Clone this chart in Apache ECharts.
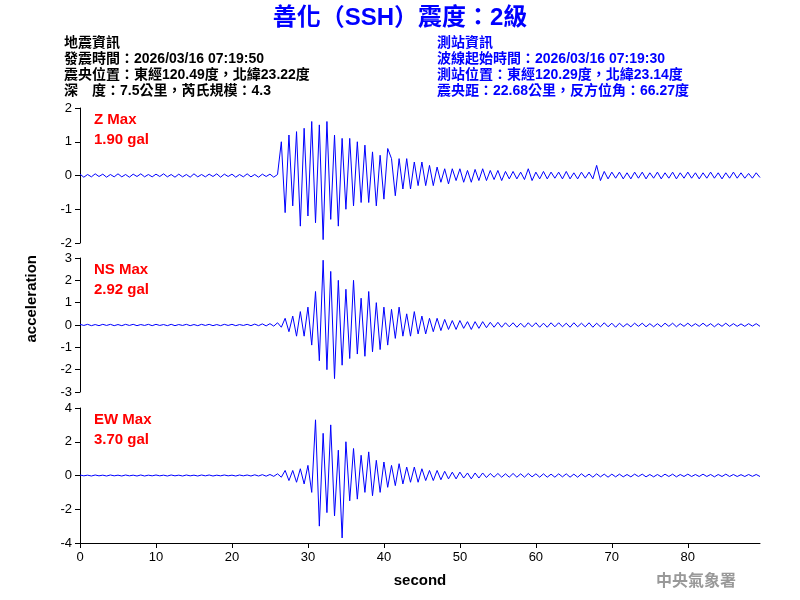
<!DOCTYPE html>
<html>
<head>
<meta charset="utf-8">
<script src="https://cdn.jsdelivr.net/npm/echarts@6/dist/echarts.min.js"></script>
<style>body{margin:0}#main{width:800px;height:600px}</style>
</head>
<body>
<div id="main"></div>
<script>
// 0.5 s per sample
var step = 0.5;
var zData = [0.04,-0.05,0.03,-0.04,0.05,-0.03,0.04,-0.05,0.03,-0.04,
  0.05,-0.04,0.03,-0.05,0.04,-0.03,0.05,-0.04,0.03,-0.04,
  0.04,-0.03,0.05,-0.04,0.03,-0.05,0.04,-0.04,0.03,-0.05,
  0.05,-0.04,0.03,-0.04,0.04,-0.03,0.05,-0.05,0.04,-0.03,
  0.04,-0.05,0.03,-0.04,0.05,-0.04,0.03,-0.05,0.04,-0.03,0.04,-0.05,0.03,
  1.0,-1.1,1.2,-0.9,1.3,-1.5,1.4,-1.2,
  1.6,-1.4,1.5,-1.9,1.6,-1.3,1.2,-1.5,1.1,
  -1.0,1.1,-0.9,1.0,-0.8,0.9,-0.8,0.7,-0.9,0.6,-0.7,0.8,
  0.5,-0.6,0.5,-0.4,0.5,-0.4,0.4,-0.3,0.4,-0.3,0.3,-0.3,
  0.25,-0.2,0.2,-0.25,0.2,-0.15,0.2,-0.2,0.15,-0.2,0.18,-0.15,0.2,-0.15,0.15,-0.12,0.15,-0.15,0.12,-0.1,
  0.12,-0.1,0.1,-0.12,0.2,-0.15,0.1,-0.1,0.12,-0.1,
  0.1,-0.08,0.1,-0.1,0.12,-0.1,0.08,-0.1,0.1,-0.08,
  0.1,-0.1,0.3,-0.15,0.12,-0.1,0.1,-0.08,0.1,-0.1,
  0.08,-0.1,0.1,-0.08,0.1,-0.1,0.08,-0.08,0.1,-0.1,
  0.08,-0.08,0.1,-0.1,0.08,-0.08,0.1,-0.08,0.08,-0.1,
  0.08,-0.08,0.1,-0.08,0.08,-0.1,0.08,-0.08,0.1,-0.08,
  0.08,-0.08,0.06,-0.08,0.08,-0.06];
var nsData = [0.03,-0.02,0.03,-0.03,0.02,-0.03,0.03,-0.02,0.03,-0.03,
  0.02,-0.03,0.03,-0.02,0.03,-0.03,0.02,-0.02,0.03,-0.03,
  0.03,-0.02,0.02,-0.03,0.03,-0.03,0.02,-0.02,0.03,-0.03,
  0.02,-0.03,0.03,-0.02,0.03,-0.03,0.02,-0.03,0.03,-0.02,
  0.03,-0.03,0.02,-0.02,0.03,-0.03,0.04,-0.03,0.05,-0.04,0.06,-0.05,0.1,-0.1,
  0.3,-0.3,0.4,-0.5,0.6,-0.5,0.8,-0.9,
  1.5,-1.6,2.9,-2.0,2.4,-2.4,2.0,-1.8,
  1.6,-1.5,2.0,-1.3,1.2,-1.4,1.5,-1.2,1.0,-1.1,
  0.8,-0.9,0.7,-0.6,0.8,-0.5,0.5,-0.5,0.6,-0.4,0.4,-0.4,
  0.3,-0.3,0.3,-0.25,0.25,-0.2,0.2,-0.2,0.2,-0.15,0.15,-0.2,0.15,-0.15,0.15,-0.12,0.12,-0.1,0.12,-0.1,
  0.1,-0.08,0.1,-0.1,0.08,-0.1,0.1,-0.08,0.1,-0.1,
  0.08,-0.1,0.1,-0.08,0.1,-0.08,0.08,-0.1,0.1,-0.08,
  0.08,-0.08,0.1,-0.1,0.08,-0.08,0.1,-0.08,0.08,-0.1,
  0.08,-0.08,0.06,-0.08,0.08,-0.06,0.08,-0.08,0.06,-0.08,
  0.06,-0.08,0.08,-0.06,0.08,-0.08,0.06,-0.06,0.08,-0.06,
  0.06,-0.06,0.08,-0.06,0.06,-0.08,0.06,-0.06,0.08,-0.06,
  0.06,-0.06,0.05,-0.06,0.06,-0.05,0.06,-0.06];
var ewData = [0.03,-0.02,0.02,-0.03,0.03,-0.02,0.02,-0.03,0.03,-0.02,
  0.02,-0.03,0.03,-0.02,0.02,-0.03,0.03,-0.03,0.02,-0.02,
  0.03,-0.02,0.02,-0.03,0.03,-0.02,0.02,-0.03,0.03,-0.02,
  0.02,-0.03,0.03,-0.02,0.03,-0.03,0.02,-0.02,0.03,-0.02,
  0.02,-0.03,0.03,-0.02,0.03,-0.03,0.04,-0.03,0.05,-0.04,0.06,-0.05,0.1,-0.1,
  0.3,-0.3,0.3,-0.4,0.4,-0.5,0.6,-1.0,
  3.3,-3.0,2.5,-2.2,3.0,-2.4,1.5,-3.7,
  2.0,-1.5,1.6,-1.4,1.2,-1.0,1.4,-1.2,0.9,-1.0,
  0.8,-0.7,0.6,-0.6,0.7,-0.5,0.5,-0.4,0.5,-0.4,0.4,-0.3,
  0.3,-0.3,0.3,-0.25,0.25,-0.2,0.2,-0.2,0.2,-0.15,0.15,-0.2,0.15,-0.15,0.15,-0.12,0.12,-0.1,0.12,-0.1,
  0.1,-0.1,0.12,-0.1,0.1,-0.1,0.12,-0.08,0.1,-0.1,
  0.1,-0.1,0.08,-0.1,0.1,-0.08,0.1,-0.1,0.08,-0.1,
  0.1,-0.08,0.08,-0.1,0.1,-0.08,0.08,-0.1,0.08,-0.08,
  0.08,-0.08,0.06,-0.08,0.08,-0.06,0.08,-0.08,0.06,-0.08,
  0.06,-0.08,0.08,-0.06,0.08,-0.08,0.06,-0.06,0.08,-0.06,
  0.06,-0.06,0.08,-0.06,0.06,-0.08,0.06,-0.06,0.08,-0.06,
  0.06,-0.06,0.05,-0.06,0.06,-0.05,0.06,-0.06];
var panels = [
  {name: 'Z Max', maxText: '1.90 gal', min: -2, max: 2, interval: 1, data: zData, top: 108, height: 135},
  {name: 'NS Max', maxText: '2.92 gal', min: -3, max: 3, interval: 1, data: nsData, top: 258, height: 134},
  {name: 'EW Max', maxText: '3.70 gal', min: -4, max: 4, interval: 2, data: ewData, top: 408, height: 135}
];
var leftInfo = ['地震資訊', '發震時間：2026/03/16 07:19:50', '震央位置：東經120.49度，北緯23.22度', '深　度：7.5公里，芮氏規模：4.3'];
var rightInfo = ['測站資訊', '波線起始時間：2026/03/16 07:19:30', '測站位置：東經120.29度，北緯23.14度', '震央距：22.68公里，反方位角：66.27度'];

var font = 'Arial, "Liberation Sans", "Noto Sans CJK TC", sans-serif';
var chart = echarts.init(document.getElementById('main'));
var grids = [], xAxes = [], yAxes = [], series = [], graphics = [];
panels.forEach(function(p, k) {
  grids.push({left: 80, right: 40, top: p.top, height: p.height});
  var last = k === panels.length - 1;
  xAxes.push({
    type: 'value', gridIndex: k, min: 0, max: 89.5, interval: 10,
    axisLine: {show: last, onZero: false, lineStyle: {color: '#000'}},
    axisTick: {show: last, lineStyle: {color: '#000'}},
    axisLabel: {show: last, showMaxLabel: false, color: '#000', fontSize: 13, fontFamily: font},
    splitLine: {show: false},
    name: last ? 'second' : '', nameLocation: 'middle', nameGap: 30,
    nameTextStyle: {color: '#000', fontSize: 15, fontWeight: 'bold', fontFamily: font}
  });
  yAxes.push({
    type: 'value', gridIndex: k, min: p.min, max: p.max, interval: p.interval,
    axisLine: {show: true, lineStyle: {color: '#000'}},
    axisTick: {show: true, lineStyle: {color: '#000'}},
    axisLabel: {color: '#000', fontSize: 13, fontFamily: font},
    splitLine: {show: false}
  });
  series.push({
    type: 'line', xAxisIndex: k, yAxisIndex: k, showSymbol: false, animation: false,
    lineStyle: {color: '#0000ff', width: 1},
    data: p.data.map(function(v, i) { return [i * step, v]; })
  });
  graphics.push({type: 'text', left: 94, top: p.top + 2, style: {text: p.name + '\n' + p.maxText, fill: '#ff0000', font: 'bold 15px ' + font, lineHeight: 20}});
});
graphics.push({type: 'text', left: 'center', top: 6, style: {text: '善化（SSH）震度：2級', fill: '#0000ff', font: 'bold 24px ' + font}});
graphics.push({type: 'text', left: 64, top: 35, style: {text: leftInfo.join('\n'), fill: '#000', font: 'bold 14px ' + font, lineHeight: 16}});
graphics.push({type: 'text', left: 437, top: 35, style: {text: rightInfo.join('\n'), fill: '#0000ff', font: 'bold 14px ' + font, lineHeight: 16}});
graphics.push({type: 'text', left: 24, top: 255, rotation: Math.PI / 2, style: {text: 'acceleration', fill: '#000', font: 'bold 15px ' + font}});
graphics.push({type: 'text', left: 656, top: 572, style: {text: '中央氣象署', fill: '#999', font: 'bold 16px "Noto Sans CJK TC", serif'}});

chart.setOption({
  backgroundColor: '#fff',
  animation: false,
  grid: grids, xAxis: xAxes, yAxis: yAxes, series: series, graphic: graphics
});
</script>
</body>
</html>
